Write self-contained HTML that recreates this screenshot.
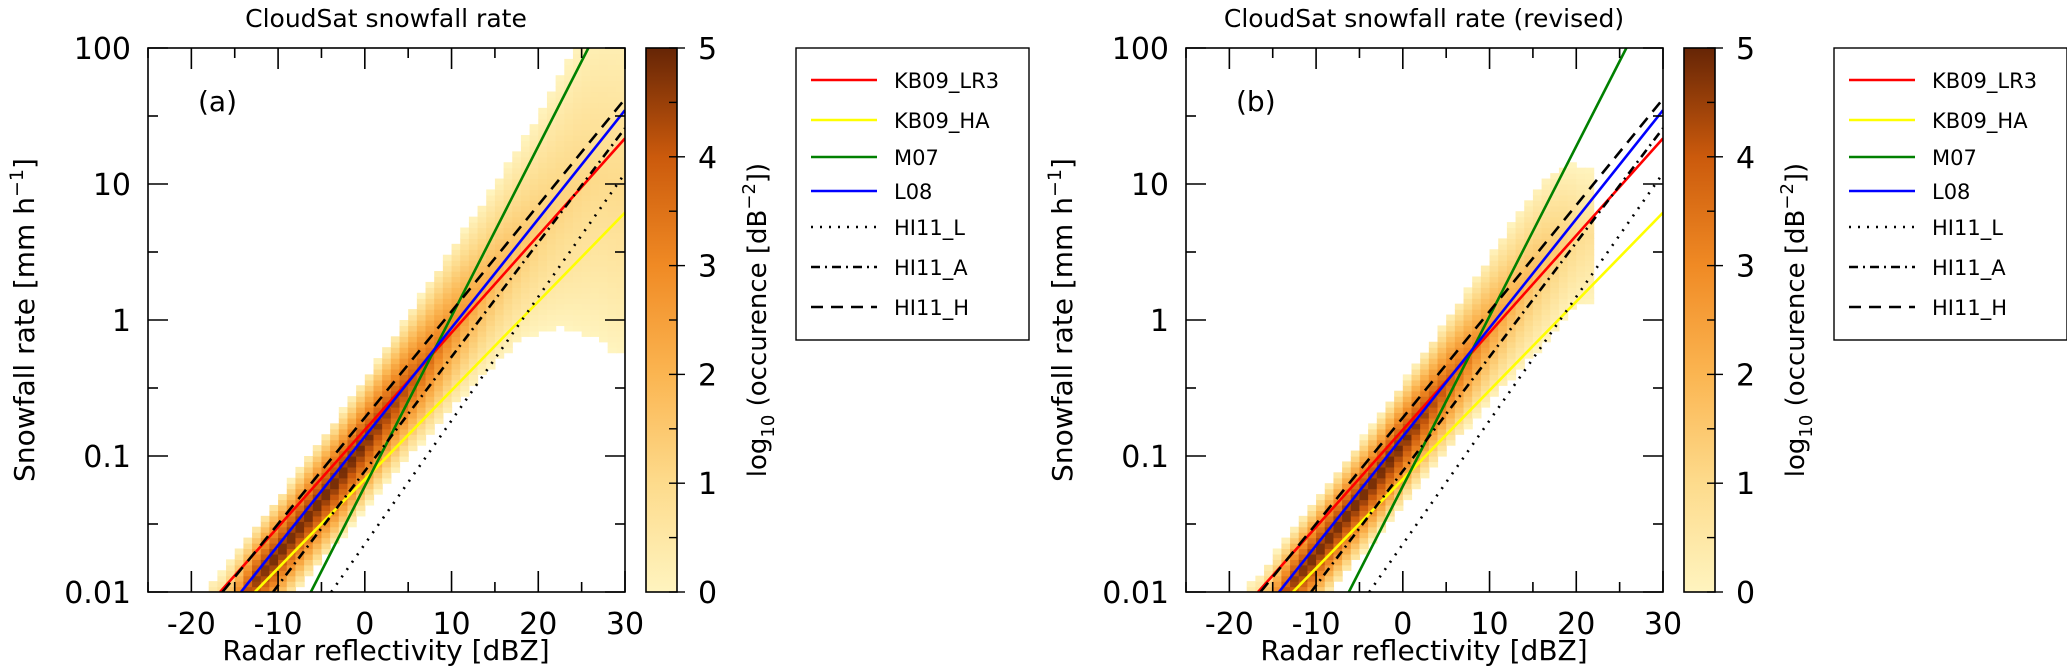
<!DOCTYPE html>
<html><head><meta charset="utf-8"><style>
html,body{margin:0;padding:0;background:#fff;overflow:hidden;}
svg{display:block;font-family:"DejaVu Sans","Liberation Sans",sans-serif;}
</style></head><body>
<svg id="fig" width="2067" height="672" viewBox="0 0 2067 672" xmlns="http://www.w3.org/2000/svg"></svg>
<script>
// ---------- data ----------
const xTicks = [-20,-10,0,10,20,30];
const yTicks = [0.01,0.1,1,10,100];
const yTickLabels = ["0.01","0.1","1","10","100"];
const cbTicks = [0,1,2,3,4,5];
const seriesNames = ["KB09_LR3","KB09_HA","M07","L08","HI11_L","HI11_A","HI11_H"];
// Z = a * S^b (Z in mm6 m-3, S in mm/h)
const coefA = [13.5, 62, 9.5, 11.8, 65, 21, 8.3];
const coefB = [1.4, 1.53, 0.8, 1.25, 1.1, 1.19, 1.28];
const seriesColors = ["#ff0000","#ffff00","#008000","#0000ff","#000","#000","#000"];
const seriesDash = ["","","","","2,7","9,5,2,5","12,8"];
// heatmap columns (dBZ bin centres)
const binDbz = [-17,-15,-13,-11,-9,-7,-5,-3,-1,1,3,5,7,9,11,13,15,17,19,21,23,25,27,29];
const centerA = [-2.25,-2.1,-1.95,-1.8,-1.64,-1.48,-1.32,-1.16,-0.99,-0.82,-0.65,-0.48,-0.32,-0.15,0.02,0.18,0.34,0.5,0.64,0.78,0.9,1.0,1.05,1.0];
const widthA = [0.35,0.38,0.4,0.42,0.42,0.44,0.45,0.46,0.47,0.48,0.5,0.52,0.55,0.58,0.6,0.62,0.65,0.7,0.75,0.85,0.95,1.1,1.2,1.25];
const peakA = [1.5,3.0,4.6,5.0,5.0,5.0,5.0,5.0,5.0,4.8,4.5,4.2,3.8,3.3,2.8,2.3,2.0,1.7,1.5,1.3,1.2,1.1,1.0,1.0];
const centerB = [-2.25,-2.1,-1.95,-1.8,-1.64,-1.48,-1.32,-1.16,-0.99,-0.82,-0.65,-0.48,-0.32,-0.15,0.02,0.18,0.34,0.48,0.6,0.62,0,0,0,0];
const widthB = [0.33,0.36,0.38,0.4,0.4,0.41,0.42,0.43,0.44,0.45,0.46,0.48,0.5,0.52,0.55,0.57,0.6,0.6,0.55,0.5,0,0,0,0];
const peakB = [1.5,3.0,4.6,5.0,5.0,5.0,5.0,5.0,5.0,4.8,4.4,4.0,3.5,3.0,2.5,2.1,1.8,1.5,1.2,0.8,0,0,0,0];
const colorStops = ["#fff4bf","#fddb8c","#fbb551","#f08a24","#cb5a0c","#662506"];

// ---------- helpers ----------
const NS="http://www.w3.org/2000/svg";
const svg=document.getElementById('fig');
function mk(tag,attrs,parent){const e=document.createElementNS(NS,tag);for(const k in attrs)e.setAttribute(k,attrs[k]);(parent||svg).appendChild(e);return e;}
function hex(c){return [1,3,5].map(i=>parseInt(c.substr(i,2),16));}
function cmap(v){v=Math.max(0,Math.min(5,v));const i=Math.min(4,Math.floor(v));const t=v-i;const a=hex(colorStops[i]),b=hex(colorStops[i+1]);return 'rgb('+a.map((x,k)=>Math.round(x+(b[k]-x)*t)).join(',')+')';}

const X0=148,X1=625,Y0=48,Y1=592;
function drawPanel(dx,letter,title,center,width,peak,pid){
  const g=mk('g',{transform:'translate('+dx+',0)'});
  
  
  const xs=v=>X0+(v+25)/55*(X1-X0);
  const ys=l=>Y0+(2-l)/4*(Y1-Y0);
  const cp=mk('clipPath',{id:'clip'+pid},g);
  mk('rect',{x:X0,y:Y0,width:X1-X0,height:Y1-Y0},cp);
  const hm=mk('g',{'clip-path':'url(#clip'+pid+')'},g);
  
  
  const step=0.04;
  for(let i=0;i<binDbz.length;i++){
    if(peak[i]<=0)continue;
    for(let h=0;h<2;h++){
      const j=h===0?Math.max(0,i-1):Math.min(binDbz.length-1,i+1);
      const w=peak[j]>0?0.25:0;
      const c=center[i]*(1-w)+center[j]*w, wd=width[i]*(1-w)+width[j]*w, pk=peak[i]*(1-w)+peak[j]*w;
      const z0=binDbz[i]-1+h;
      for(let l=-2;l<2-1e-9;l+=step){
        const d=Math.abs((l+step/2-c)/wd);
        if(d>=1)continue;
        const v=pk*Math.pow(1-d,0.85);
        const r=mk('rect',{x:xs(z0),y:ys(l+step),width:xs(z0+1)-xs(z0)+0.6,height:ys(l)-ys(l+step)+0.6,fill:cmap(v)},hm);
        
        
      }
    }
  }
  // relation lines (endpoints clipped to axes)
  const lg=mk('g',{'clip-path':'url(#clip'+pid+')'},g);
  for(let k=0;k<seriesNames.length;k++){
    const f=z=>(z/10-Math.log10(coefA[k]))/coefB[k];
    const zOf=l=>10*(coefB[k]*l+Math.log10(coefA[k]));
    const za=Math.max(-25,zOf(-2)), zb=Math.min(30,zOf(2));
    const p=mk('line',{x1:xs(za),y1:ys(f(za)),x2:xs(zb),y2:ys(f(zb)),stroke:seriesColors[k],'stroke-width':2.6,'stroke-dasharray':seriesDash[k]},lg);
    
    
  }
  const fr=mk('rect',{x:X0,y:Y0,width:X1-X0,height:Y1-Y0,fill:'none',stroke:'#000','stroke-width':1.6},g);
  
  
  for(let v=-25;v<=30;v+=5){
    const L=(v%10===0)?21:10;const x=xs(v);
    mk('line',{x1:x,y1:Y1,x2:x,y2:Y1-L,stroke:'#000','stroke-width':1.6},g);
    mk('line',{x1:x,y1:Y0,x2:x,y2:Y0+L,stroke:'#000','stroke-width':1.6},g);
  }
  xTicks.forEach(v=>{const t=mk('text',{x:xs(v),y:634,'font-size':30,'text-anchor':'middle'},g);t.textContent=String(v);
    });
  for(let l=-2;l<=2;l+=0.5){
    const L=(Math.abs(l%1)<1e-9)?20:10;const y=ys(l);
    mk('line',{x1:X0,y1:y,x2:X0+L,y2:y,stroke:'#000','stroke-width':1.6},g);
    mk('line',{x1:X1,y1:y,x2:X1-L,y2:y,stroke:'#000','stroke-width':1.6},g);
  }
  yTicks.forEach((v,i)=>{const t=mk('text',{x:131,y:ys(Math.log10(v))+11,'font-size':30,'text-anchor':'end'},g);t.textContent=yTickLabels[i];
    });
  const tt=mk('text',{x:386,y:27,'font-size':25,'text-anchor':'middle'},g);tt.textContent=title;
  
  const pl=mk('text',{x:198,y:111,'font-size':28},g);pl.textContent='('+letter+')';
  
  const xl=mk('text',{x:386,y:660,'font-size':28,'text-anchor':'middle'},g);xl.textContent='Radar reflectivity [dBZ]';
  
  const yl=mk('text',{x:0,y:0,'font-size':28,'text-anchor':'middle',transform:'translate(34,320) rotate(-90)'},g);
  yl.innerHTML='Snowfall rate [mm h<tspan dy="-11" font-size="19">−1</tspan><tspan dy="11">]</tspan>';
  
  const CX0=646,CX1=677;
  const grad=mk('linearGradient',{id:'cbg'+pid,x1:0,y1:1,x2:0,y2:0},g);
  colorStops.forEach((c,i)=>mk('stop',{offset:i/5,'stop-color':c},grad));
  const cb=mk('rect',{x:CX0,y:Y0,width:CX1-CX0,height:Y1-Y0,fill:'url(#cbg'+pid+')',stroke:'#000','stroke-width':1.6},g);
  
  const cy=v=>Y1-v/5*(Y1-Y0);
  for(let v=0;v<=5;v+=0.5){mk('line',{x1:CX1,y1:cy(v),x2:CX1-8,y2:cy(v),stroke:'#000','stroke-width':1.4},g);
    if(Math.abs(v%1)<1e-9)mk('line',{x1:CX1,y1:cy(v),x2:CX1+8,y2:cy(v),stroke:'#000','stroke-width':1.4},g);}
  cbTicks.forEach(v=>{const t=mk('text',{x:698,y:cy(v)+11,'font-size':30},g);t.textContent=v;
    });
  const cl=mk('text',{x:0,y:0,'font-size':26,'text-anchor':'middle',transform:'translate(766,320) rotate(-90)'},g);
  cl.innerHTML='log<tspan dy="8" font-size="18">10</tspan><tspan dy="-8"> (occurence [dB</tspan><tspan dy="-11" font-size="18">−2</tspan><tspan dy="11">])</tspan>';
  
  const lgd=mk('g',{},g);
  
  mk('rect',{x:796,y:48,width:233,height:292,fill:'#fff',stroke:'#000','stroke-width':1.4},lgd);
  const ly=[80,120,157,191,227,267,307];
  seriesNames.forEach((n,k)=>{
    const e=mk('g',{},lgd);
    
    mk('line',{x1:811,y1:ly[k],x2:877,y2:ly[k],stroke:seriesColors[k],'stroke-width':2.6,'stroke-dasharray':seriesDash[k]},e);
    const t=mk('text',{x:894,y:ly[k]+8,'font-size':21},e);t.textContent=n;
  });
}
drawPanel(0,'a','CloudSat snowfall rate',centerA,widthA,peakA,'A');
drawPanel(1038,'b','CloudSat snowfall rate (revised)',centerB,widthB,peakB,'B');
</script>
</body></html>
